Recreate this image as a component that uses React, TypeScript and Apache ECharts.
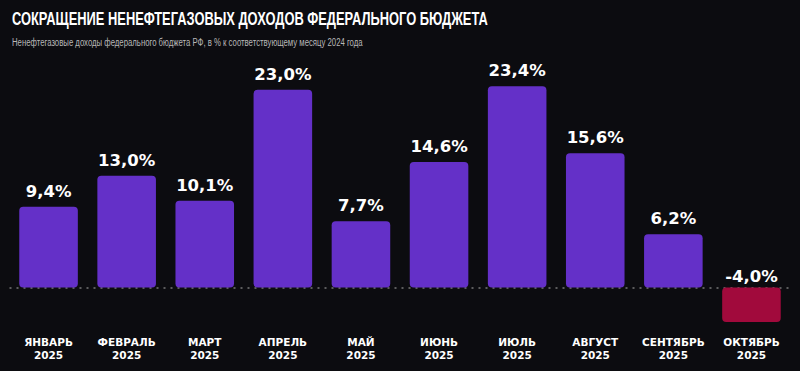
import React, { useEffect, useRef } from "react";
import * as echarts from "echarts";

const months = ["ЯНВАРЬ", "ФЕВРАЛЬ", "МАРТ", "АПРЕЛЬ", "МАЙ", "ИЮНЬ", "ИЮЛЬ", "АВГУСТ", "СЕНТЯБРЬ", "ОКТЯБРЬ"];
const years = ["2025", "2025", "2025", "2025", "2025", "2025", "2025", "2025", "2025", "2025"];
const values = [9.4, 13.0, 10.1, 23.0, 7.7, 14.6, 23.4, 15.6, 6.2, -4.0];

const TITLE = "СОКРАЩЕНИЕ НЕНЕФТЕГАЗОВЫХ ДОХОДОВ ФЕДЕРАЛЬНОГО БЮДЖЕТА";
const SUBTITLE = "Ненефтегазовые доходы федерального бюджета РФ, в % к соответствующему месяцу 2024 года";

const PURPLE = "#6430c8";
const RED = "#a10a3c";

export default function App() {
  const ref = useRef<HTMLDivElement>(null);
  useEffect(() => {
    if (!ref.current) return;
    const chart = echarts.init(ref.current, null, { renderer: "svg" });
    const cats = months.map((m, i) => m + "\n" + years[i]);
    chart.setOption({
      animation: false,
      backgroundColor: "#0c0c10",
      graphic: [
        {
          type: "text",
          left: 12,
          top: 8,
          scaleX: 0.678,
          style: {
            text: TITLE,
            fill: "#ffffff",
            font: "bold 19px 'Liberation Sans', 'DejaVu Sans', sans-serif",
          },
        },
        {
          type: "text",
          left: 12,
          top: 36,
          scaleX: 0.676,
          style: {
            text: SUBTITLE,
            fill: "#b8b8b8",
            font: "11.5px 'Liberation Sans', 'DejaVu Sans', sans-serif",
          },
        },
      ],
      grid: { left: 9.5, right: 9.5, top: 72.5, bottom: 40.5, containLabel: false },
      xAxis: {
        type: "category",
        data: cats,
        axisLine: { show: false, onZero: false },
        axisTick: { show: false },
        axisLabel: {
          color: "#ffffff",
          fontFamily: "DejaVu Sans",
          fontWeight: "bold",
          fontSize: 10.5,
          lineHeight: 13,
          margin: 5,
          interval: 0,
        },
      },
      yAxis: {
        type: "value",
        min: -5,
        max: 25,
        show: false,
        splitLine: { show: false },
      },
      series: [
        {
          type: "bar",
          barWidth: "75%",
          data: values.map((v) => ({
            value: v,
            itemStyle: {
              color: v < 0 ? RED : PURPLE,
              borderRadius: 4,
            },
            label: v < 0 ? { position: "insideBottom", offset: [0, -30] } : undefined,
          })),
          label: {
            show: true,
            position: "top",
            distance: 7,
            color: "#ffffff",
            fontFamily: "DejaVu Sans",
            fontWeight: "bold",
            fontSize: 16.5,
            formatter: (p: any) => p.value.toFixed(1).replace(".", ",") + "%",
          },
          markLine: {
            silent: true,
            symbol: "none",
            label: { show: false },
            lineStyle: { color: "#777777", type: [2, 5], width: 1.5 },
            data: [{ yAxis: 0 }],
            z: 1,
          },
          z: 2,
        },
      ],
    });
    return () => chart.dispose();
  }, []);
  return (
    <div
      ref={ref}
      style={{ position: "absolute", left: 0, top: 0, width: 800, height: 371 }}
    />
  );
}
